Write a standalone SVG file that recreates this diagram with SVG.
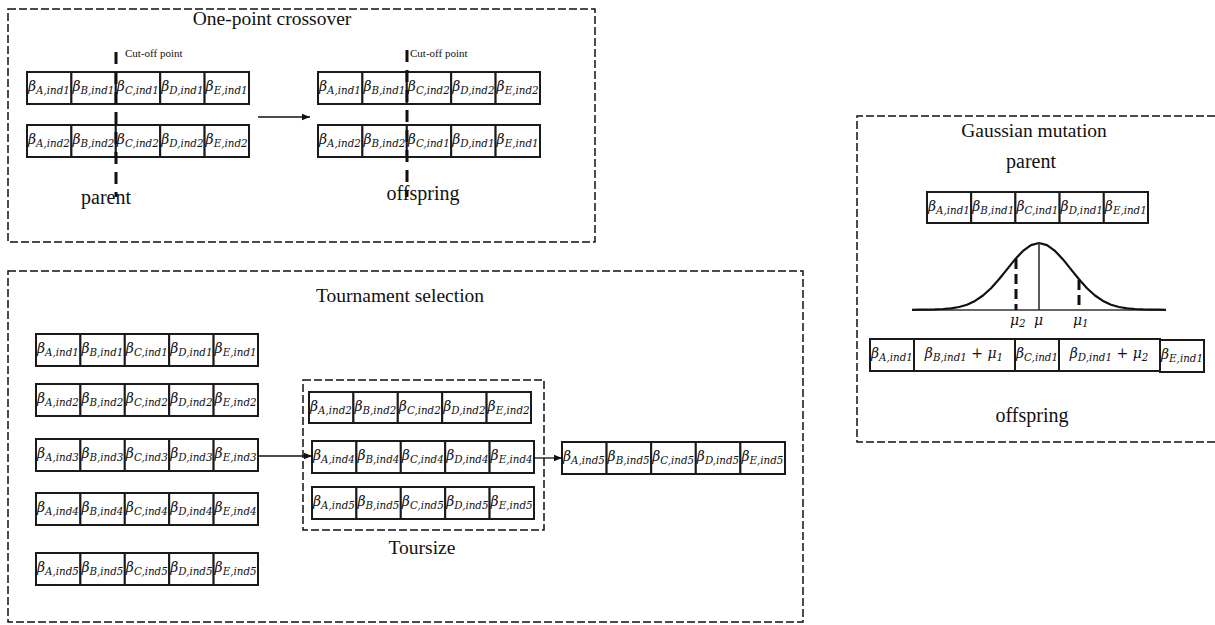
<svg xmlns="http://www.w3.org/2000/svg" width="1215" height="625" viewBox="0 0 1215 625">
<style>
.box{fill:none;stroke:#111;stroke-width:1.5;stroke-dasharray:8 3}
.c{fill:#fff;stroke:#1a1a1a;stroke-width:2}
.b{font-family:"DejaVu Serif",serif;font-style:italic;font-size:14px;fill:#111}
.s{font-size:10.3px}
.up{font-style:normal}
.t{font-family:"Liberation Serif","Times New Roman",serif;font-size:19.5px;fill:#111}
.l{font-family:"Liberation Serif","Times New Roman",serif;font-size:20px;fill:#111}
.cut{stroke:#111;stroke-width:3;stroke-dasharray:12 8;fill:none}
.ct{font-family:"Liberation Serif","Times New Roman",serif;font-size:11px;fill:#111}
.con{stroke:#111;stroke-width:1.3;fill:none}
</style>
<defs>
<marker id="ah" viewBox="0 0 10 10" refX="10" refY="5" markerWidth="9" markerHeight="8" markerUnits="userSpaceOnUse" orient="auto"><path d="M0,1 L10,5 L0,9 z" fill="#111"/></marker>
</defs>

<!-- One-point crossover -->
<g id="crossover">
<rect class="box" x="8" y="9" width="587" height="233"/>
<text class="t" x="272" y="25" text-anchor="middle">One-point crossover</text>
<text class="ct" x="125" y="57">Cut-off point</text>
<text class="ct" x="410" y="57">Cut-off point</text>
<text class="l" x="106" y="204" text-anchor="middle">parent</text>
<text class="l" x="423" y="200" text-anchor="middle">offspring</text>
</g>

<g id="cross-parent1" transform="translate(27,72)">
<rect class="c" x="0" y="0" width="44.4" height="32"/><rect class="c" x="44.4" y="0" width="44.4" height="32"/><rect class="c" x="88.8" y="0" width="44.4" height="32"/><rect class="c" x="133.2" y="0" width="44.4" height="32"/><rect class="c" x="177.6" y="0" width="44.4" height="32"/>
<text class="b" x="1" y="19">β<tspan class="s" dy="3">A,ind1</tspan></text>
<text class="b" x="45.4" y="19">β<tspan class="s" dy="3">B,ind1</tspan></text>
<text class="b" x="89.8" y="19">β<tspan class="s" dy="3">C,ind1</tspan></text>
<text class="b" x="134.2" y="19">β<tspan class="s" dy="3">D,ind1</tspan></text>
<text class="b" x="178.6" y="19">β<tspan class="s" dy="3">E,ind1</tspan></text>
</g>
<g id="cross-parent2" transform="translate(27,125)">
<rect class="c" x="0" y="0" width="44.4" height="32"/><rect class="c" x="44.4" y="0" width="44.4" height="32"/><rect class="c" x="88.8" y="0" width="44.4" height="32"/><rect class="c" x="133.2" y="0" width="44.4" height="32"/><rect class="c" x="177.6" y="0" width="44.4" height="32"/>
<text class="b" x="1" y="19">β<tspan class="s" dy="3">A,ind2</tspan></text>
<text class="b" x="45.4" y="19">β<tspan class="s" dy="3">B,ind2</tspan></text>
<text class="b" x="89.8" y="19">β<tspan class="s" dy="3">C,ind2</tspan></text>
<text class="b" x="134.2" y="19">β<tspan class="s" dy="3">D,ind2</tspan></text>
<text class="b" x="178.6" y="19">β<tspan class="s" dy="3">E,ind2</tspan></text>
</g>
<g id="cross-off1" transform="translate(318,72)">
<rect class="c" x="0" y="0" width="44.4" height="32"/><rect class="c" x="44.4" y="0" width="44.4" height="32"/><rect class="c" x="88.8" y="0" width="44.4" height="32"/><rect class="c" x="133.2" y="0" width="44.4" height="32"/><rect class="c" x="177.6" y="0" width="44.4" height="32"/>
<text class="b" x="1" y="19">β<tspan class="s" dy="3">A,ind1</tspan></text>
<text class="b" x="45.4" y="19">β<tspan class="s" dy="3">B,ind1</tspan></text>
<text class="b" x="89.8" y="19">β<tspan class="s" dy="3">C,ind2</tspan></text>
<text class="b" x="134.2" y="19">β<tspan class="s" dy="3">D,ind2</tspan></text>
<text class="b" x="178.6" y="19">β<tspan class="s" dy="3">E,ind2</tspan></text>
</g>
<g id="cross-off2" transform="translate(318,125)">
<rect class="c" x="0" y="0" width="44.4" height="32"/><rect class="c" x="44.4" y="0" width="44.4" height="32"/><rect class="c" x="88.8" y="0" width="44.4" height="32"/><rect class="c" x="133.2" y="0" width="44.4" height="32"/><rect class="c" x="177.6" y="0" width="44.4" height="32"/>
<text class="b" x="1" y="19">β<tspan class="s" dy="3">A,ind2</tspan></text>
<text class="b" x="45.4" y="19">β<tspan class="s" dy="3">B,ind2</tspan></text>
<text class="b" x="89.8" y="19">β<tspan class="s" dy="3">C,ind1</tspan></text>
<text class="b" x="134.2" y="19">β<tspan class="s" dy="3">D,ind1</tspan></text>
<text class="b" x="178.6" y="19">β<tspan class="s" dy="3">E,ind1</tspan></text>
</g>
<g id="cross-cutmarks">
<line class="cut" x1="116" y1="52" x2="116" y2="197"/>
<line class="cut" x1="407" y1="50" x2="407" y2="197"/>
</g>

<!-- Tournament selection -->
<g id="tournament">
<rect class="box" x="8" y="271" width="795" height="351"/>
<text class="t" x="400" y="302" text-anchor="middle">Tournament selection</text>
</g>
<g id="tour-ind1" transform="translate(36,334)">
<rect class="c" x="0" y="0" width="44.4" height="32"/><rect class="c" x="44.4" y="0" width="44.4" height="32"/><rect class="c" x="88.8" y="0" width="44.4" height="32"/><rect class="c" x="133.2" y="0" width="44.4" height="32"/><rect class="c" x="177.6" y="0" width="44.4" height="32"/>
<text class="b" x="1" y="19">β<tspan class="s" dy="3">A,ind1</tspan></text>
<text class="b" x="45.4" y="19">β<tspan class="s" dy="3">B,ind1</tspan></text>
<text class="b" x="89.8" y="19">β<tspan class="s" dy="3">C,ind1</tspan></text>
<text class="b" x="134.2" y="19">β<tspan class="s" dy="3">D,ind1</tspan></text>
<text class="b" x="178.6" y="19">β<tspan class="s" dy="3">E,ind1</tspan></text>
</g>
<g id="tour-ind2" transform="translate(36,384)">
<rect class="c" x="0" y="0" width="44.4" height="32"/><rect class="c" x="44.4" y="0" width="44.4" height="32"/><rect class="c" x="88.8" y="0" width="44.4" height="32"/><rect class="c" x="133.2" y="0" width="44.4" height="32"/><rect class="c" x="177.6" y="0" width="44.4" height="32"/>
<text class="b" x="1" y="19">β<tspan class="s" dy="3">A,ind2</tspan></text>
<text class="b" x="45.4" y="19">β<tspan class="s" dy="3">B,ind2</tspan></text>
<text class="b" x="89.8" y="19">β<tspan class="s" dy="3">C,ind2</tspan></text>
<text class="b" x="134.2" y="19">β<tspan class="s" dy="3">D,ind2</tspan></text>
<text class="b" x="178.6" y="19">β<tspan class="s" dy="3">E,ind2</tspan></text>
</g>
<g id="tour-ind3" transform="translate(36,439)">
<rect class="c" x="0" y="0" width="44.4" height="32"/><rect class="c" x="44.4" y="0" width="44.4" height="32"/><rect class="c" x="88.8" y="0" width="44.4" height="32"/><rect class="c" x="133.2" y="0" width="44.4" height="32"/><rect class="c" x="177.6" y="0" width="44.4" height="32"/>
<text class="b" x="1" y="19">β<tspan class="s" dy="3">A,ind3</tspan></text>
<text class="b" x="45.4" y="19">β<tspan class="s" dy="3">B,ind3</tspan></text>
<text class="b" x="89.8" y="19">β<tspan class="s" dy="3">C,ind3</tspan></text>
<text class="b" x="134.2" y="19">β<tspan class="s" dy="3">D,ind3</tspan></text>
<text class="b" x="178.6" y="19">β<tspan class="s" dy="3">E,ind3</tspan></text>
</g>
<g id="tour-ind4" transform="translate(36,493)">
<rect class="c" x="0" y="0" width="44.4" height="32"/><rect class="c" x="44.4" y="0" width="44.4" height="32"/><rect class="c" x="88.8" y="0" width="44.4" height="32"/><rect class="c" x="133.2" y="0" width="44.4" height="32"/><rect class="c" x="177.6" y="0" width="44.4" height="32"/>
<text class="b" x="1" y="19">β<tspan class="s" dy="3">A,ind4</tspan></text>
<text class="b" x="45.4" y="19">β<tspan class="s" dy="3">B,ind4</tspan></text>
<text class="b" x="89.8" y="19">β<tspan class="s" dy="3">C,ind4</tspan></text>
<text class="b" x="134.2" y="19">β<tspan class="s" dy="3">D,ind4</tspan></text>
<text class="b" x="178.6" y="19">β<tspan class="s" dy="3">E,ind4</tspan></text>
</g>
<g id="tour-ind5" transform="translate(36,553)">
<rect class="c" x="0" y="0" width="44.4" height="32"/><rect class="c" x="44.4" y="0" width="44.4" height="32"/><rect class="c" x="88.8" y="0" width="44.4" height="32"/><rect class="c" x="133.2" y="0" width="44.4" height="32"/><rect class="c" x="177.6" y="0" width="44.4" height="32"/>
<text class="b" x="1" y="19">β<tspan class="s" dy="3">A,ind5</tspan></text>
<text class="b" x="45.4" y="19">β<tspan class="s" dy="3">B,ind5</tspan></text>
<text class="b" x="89.8" y="19">β<tspan class="s" dy="3">C,ind5</tspan></text>
<text class="b" x="134.2" y="19">β<tspan class="s" dy="3">D,ind5</tspan></text>
<text class="b" x="178.6" y="19">β<tspan class="s" dy="3">E,ind5</tspan></text>
</g>

<g id="toursize">
<rect class="box" x="303" y="380" width="241" height="150"/>
<text class="t" x="422" y="554" text-anchor="middle">Toursize</text>
</g>
<g id="ts-ind2" transform="translate(309,392)">
<rect class="c" x="0" y="0" width="44.4" height="31"/><rect class="c" x="44.4" y="0" width="44.4" height="31"/><rect class="c" x="88.8" y="0" width="44.4" height="31"/><rect class="c" x="133.2" y="0" width="44.4" height="31"/><rect class="c" x="177.6" y="0" width="44.4" height="31"/>
<text class="b" x="1" y="18.5">β<tspan class="s" dy="3">A,ind2</tspan></text>
<text class="b" x="45.4" y="18.5">β<tspan class="s" dy="3">B,ind2</tspan></text>
<text class="b" x="89.8" y="18.5">β<tspan class="s" dy="3">C,ind2</tspan></text>
<text class="b" x="134.2" y="18.5">β<tspan class="s" dy="3">D,ind2</tspan></text>
<text class="b" x="178.6" y="18.5">β<tspan class="s" dy="3">E,ind2</tspan></text>
</g>
<g id="ts-ind4" transform="translate(312,441)">
<rect class="c" x="0" y="0" width="44.4" height="32"/><rect class="c" x="44.4" y="0" width="44.4" height="32"/><rect class="c" x="88.8" y="0" width="44.4" height="32"/><rect class="c" x="133.2" y="0" width="44.4" height="32"/><rect class="c" x="177.6" y="0" width="44.4" height="32"/>
<text class="b" x="1" y="19">β<tspan class="s" dy="3">A,ind4</tspan></text>
<text class="b" x="45.4" y="19">β<tspan class="s" dy="3">B,ind4</tspan></text>
<text class="b" x="89.8" y="19">β<tspan class="s" dy="3">C,ind4</tspan></text>
<text class="b" x="134.2" y="19">β<tspan class="s" dy="3">D,ind4</tspan></text>
<text class="b" x="178.6" y="19">β<tspan class="s" dy="3">E,ind4</tspan></text>
</g>
<g id="ts-ind5" transform="translate(312,487)">
<rect class="c" x="0" y="0" width="44.4" height="32"/><rect class="c" x="44.4" y="0" width="44.4" height="32"/><rect class="c" x="88.8" y="0" width="44.4" height="32"/><rect class="c" x="133.2" y="0" width="44.4" height="32"/><rect class="c" x="177.6" y="0" width="44.4" height="32"/>
<text class="b" x="1" y="19">β<tspan class="s" dy="3">A,ind5</tspan></text>
<text class="b" x="45.4" y="19">β<tspan class="s" dy="3">B,ind5</tspan></text>
<text class="b" x="89.8" y="19">β<tspan class="s" dy="3">C,ind5</tspan></text>
<text class="b" x="134.2" y="19">β<tspan class="s" dy="3">D,ind5</tspan></text>
<text class="b" x="178.6" y="19">β<tspan class="s" dy="3">E,ind5</tspan></text>
</g>
<g id="winner" transform="translate(562,442)">
<rect class="c" x="0" y="0" width="44.6" height="32"/><rect class="c" x="44.6" y="0" width="44.6" height="32"/><rect class="c" x="89.2" y="0" width="44.6" height="32"/><rect class="c" x="133.8" y="0" width="44.6" height="32"/><rect class="c" x="178.4" y="0" width="44.6" height="32"/>
<text class="b" x="1" y="19">β<tspan class="s" dy="3">A,ind5</tspan></text>
<text class="b" x="45.6" y="19">β<tspan class="s" dy="3">B,ind5</tspan></text>
<text class="b" x="90.2" y="19">β<tspan class="s" dy="3">C,ind5</tspan></text>
<text class="b" x="134.8" y="19">β<tspan class="s" dy="3">D,ind5</tspan></text>
<text class="b" x="179.4" y="19">β<tspan class="s" dy="3">E,ind5</tspan></text>
</g>

<!-- Gaussian mutation -->
<g id="gaussian">
<path class="box" d="M1215,116 H857 V442 H1215"/>
<text class="t" x="1034" y="137" text-anchor="middle">Gaussian mutation</text>
<text class="l" x="1031" y="168" text-anchor="middle">parent</text>
<text class="l" x="1032" y="422" text-anchor="middle">offspring</text>
</g>
<g id="gauss-parent" transform="translate(927,192)">
<rect class="c" x="0" y="0" width="44.2" height="31"/><rect class="c" x="44.2" y="0" width="44.2" height="31"/><rect class="c" x="88.4" y="0" width="44.2" height="31"/><rect class="c" x="132.6" y="0" width="44.2" height="31"/><rect class="c" x="176.8" y="0" width="44.2" height="31"/>
<text class="b" x="1" y="18.5">β<tspan class="s" dy="3">A,ind1</tspan></text>
<text class="b" x="45.2" y="18.5">β<tspan class="s" dy="3">B,ind1</tspan></text>
<text class="b" x="89.4" y="18.5">β<tspan class="s" dy="3">C,ind1</tspan></text>
<text class="b" x="133.6" y="18.5">β<tspan class="s" dy="3">D,ind1</tspan></text>
<text class="b" x="177.8" y="18.5">β<tspan class="s" dy="3">E,ind1</tspan></text>
</g>
<g id="gauss-curve">
<line x1="912" y1="310" x2="1166" y2="310" stroke="#333" stroke-width="1.5"/>
<path d="M912,309.8 L919,309.7 L927,309.6 L935,309.4 L943,309 L951,308.3 L959,307 L967,304.7 L975,300.9 L983,295.5 L991,288.3 L999,279.3 L1007,269.4 L1015,259.4 L1023,250.9 L1031,245.1 L1039,243 L1047,245.1 L1055,250.9 L1063,259.4 L1071,269.4 L1079,279.3 L1087,288.3 L1095,295.5 L1103,300.9 L1111,304.7 L1119,307 L1127,308.3 L1135,309 L1143,309.4 L1151,309.6 L1159,309.7 L1166,309.8" fill="none" stroke="#111" stroke-width="2.2" stroke-linejoin="round"/>
<line x1="1039" y1="243" x2="1039" y2="310" stroke="#333" stroke-width="1.6"/>
<line x1="1016" y1="259" x2="1016" y2="310" stroke="#111" stroke-width="3" stroke-dasharray="10 5"/>
<line x1="1079" y1="280" x2="1079" y2="310" stroke="#111" stroke-width="3" stroke-dasharray="10 5"/>
<text class="b" x="1010" y="325">μ<tspan class="s" dy="2">2</tspan></text>
<text class="b" x="1034" y="325">μ</text>
<text class="b" x="1073" y="325">μ<tspan class="s" dy="2">1</tspan></text>
</g>
<g id="gauss-offspring" transform="translate(870,339)">
<rect class="c" x="0" y="0" width="44" height="32"/><rect class="c" x="44" y="0" width="101" height="32"/><rect class="c" x="145" y="0" width="44" height="32"/><rect class="c" x="189" y="0" width="101" height="32"/><rect class="c" x="290" y="1" width="44" height="32"/>
<text class="b" x="1" y="19">β<tspan class="s" dy="3">A,ind1</tspan></text>
<text class="b" x="94" y="19" text-anchor="middle">β<tspan class="s" dy="3">B,ind1</tspan><tspan class="up" dy="-3"> + </tspan>μ<tspan class="s" dy="3">1</tspan></text>
<text class="b" x="146" y="19">β<tspan class="s" dy="3">C,ind1</tspan></text>
<text class="b" x="239" y="19" text-anchor="middle">β<tspan class="s" dy="3">D,ind1</tspan><tspan class="up" dy="-3"> + </tspan>μ<tspan class="s" dy="3">2</tspan></text>
<text class="b" x="291" y="20">β<tspan class="s" dy="3">E,ind1</tspan></text>
</g>

<g id="connectors">
<path class="con" d="M258,117 H310" marker-end="url(#ah)"/>
<path class="con" d="M258,456 H312" marker-end="url(#ah)"/>
<path class="con" d="M533,458 H562" marker-end="url(#ah)"/>
</g>
</svg>
